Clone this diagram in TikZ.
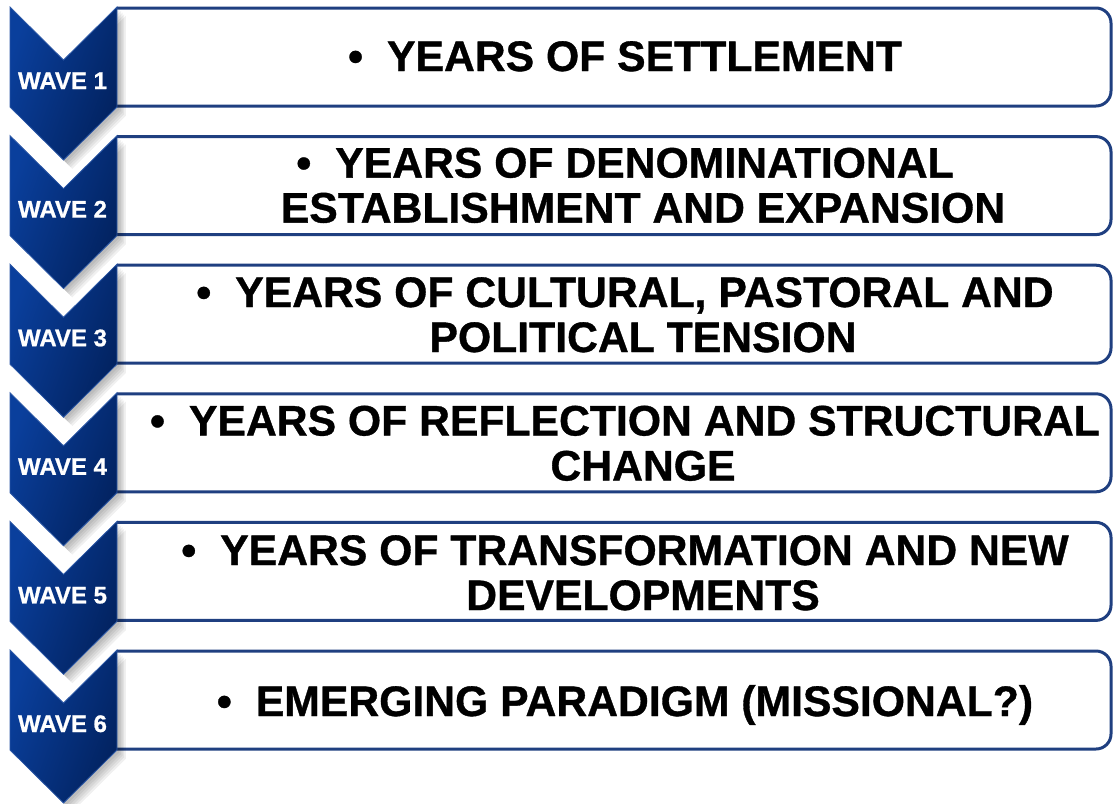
\documentclass[tikz,border=0pt]{standalone}
\usepackage{fontspec}
\setmainfont{Liberation Sans}[BoldFeatures={FakeBold=0.8}]
\definecolor{boxline}{HTML}{1F3F80}
\definecolor{chevA}{HTML}{0A3F9C}
\definecolor{chevB}{HTML}{02225F}
\definecolor{chevedge}{HTML}{2C58A6}
\newcommand\twolines[2]{\begin{tabular}[t]{@{}c@{}}\textbullet\hspace{24pt}#1\rule{18pt}{0pt}\\\rule{18pt}{0pt}#2\end{tabular}}
\tikzset{
  wavebox/.style={draw=boxline, line width=3pt, fill=white},
  chevron/.style={left color=chevA, right color=chevB, shading angle=70, draw=chevedge, line width=0.8pt},
  chevshadow/.style={fill=black, opacity=0.06},
  wavelabel/.style={text=white, font=\fontsize{24}{28}\selectfont\bfseries, anchor=base, inner sep=0pt},
  itemtext/.style={font=\fontsize{42.7}{45}\selectfont\bfseries, anchor=base, inner sep=0pt},
}
\begin{document}
\begin{tikzpicture}[x=1pt,y=-1pt]
\useasboundingbox (0,0) rectangle (1113,803);
% boxes
\foreach \k in {1,...,6}{
  \pgfmathsetmacro\T{7+128.6*(\k-1)}
  \draw[wavebox] (117,\T+1) [rounded corners=15pt] -- (1111,\T+1) -- (1111,\T+99) [sharp corners] -- (117,\T+99);
}
% shadows
\foreach \k in {1,...,6}{
  \pgfmathsetmacro\T{7+128.6*(\k-1)}
  \foreach \s in {3,5,7,9,11}{
    \begin{scope}[shift={(\s*0.8,\s*0.8)}]
      \fill[chevshadow] (10,\T) -- (63.5,\T+53) -- (117,\T) -- (117,\T+100) -- (63.5,\T+153) -- (10,\T+100) -- cycle;
    \end{scope}
  }
}
% chevrons and labels
\foreach \k in {1,...,6}{
  \pgfmathsetmacro\T{7+128.6*(\k-1)}
  \draw[chevron] (10,\T) -- (63.5,\T+53) -- (117,\T) -- (117,\T+100) -- (63.5,\T+153) -- (10,\T+100) -- cycle;
  \node[wavelabel] (w\k) at (62.5,\T+82) {WAVE \k};
}
% texts
\node[itemtext] (t1) at (625,71) {\textbullet\hspace{24pt}YEARS OF SETTLEMENT};
\node[itemtext] (t2) at (634,177.6) {\twolines{YEARS OF DENOMINATIONAL}{ESTABLISHMENT AND EXPANSION}};
\node[itemtext] (t3) at (634,307) {\twolines{YEARS OF CULTURAL, PASTORAL AND}{POLITICAL TENSION}};
\node[itemtext] (t4) at (634,435.5) {\twolines{YEARS OF REFLECTION AND STRUCTURAL}{CHANGE}};
\node[itemtext] (t5) at (634,565) {\twolines{YEARS OF TRANSFORMATION AND NEW}{DEVELOPMENTS}};
\node[itemtext] (t6) at (625,716) {\textbullet\hspace{24pt}EMERGING PARADIGM (MISSIONAL?)};
\end{tikzpicture}
\end{document}
